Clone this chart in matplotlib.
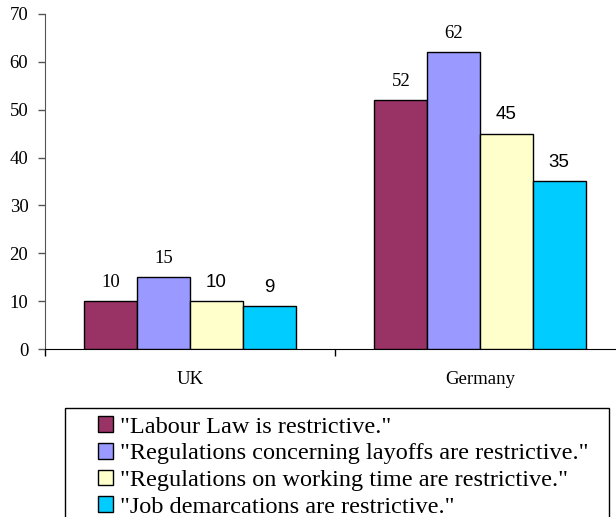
import numpy as np
import matplotlib.pyplot as plt
from matplotlib.patches import Rectangle

countries = ["UK", "Germany"]
series_labels = [
    '"Labour Law is restrictive."',
    '"Regulations concerning layoffs are restrictive."',
    '"Regulations on working time are restrictive."',
    '"Job demarcations are restrictive."',
]
labour_law = [10, 52]
layoffs = [15, 62]
working_time = [10, 45]
demarcations = [9, 35]

colors = ["#993366", "#9999FF", "#FFFFCC", "#00CCFF"]
label_fonts = ["Liberation Serif", "Liberation Serif", "Liberation Sans", "Liberation Sans"]


def main():
    fig = plt.figure(figsize=(6.16, 5.17), dpi=100)
    ax = fig.add_axes([45 / 616, 168 / 517, 580 / 616, 335 / 517])

    series = [labour_law, layoffs, working_time, demarcations]
    centers = np.arange(len(countries)) + 0.5
    width = 0.182
    offsets = (np.arange(4) - 1.5) * width

    handles = []
    for vals, off, col, fam in zip(series, offsets, colors, label_fonts):
        bars = ax.bar(centers + off, vals, width, color=col,
                      edgecolor="black", linewidth=1.0, zorder=3)
        handles.append(bars)
        for rect, v in zip(bars, vals):
            ax.annotate(str(v), (rect.get_x() + rect.get_width() / 2, v),
                        xytext=(0, 13.5), textcoords="offset points",
                        ha="center", va="center", fontsize=13.5,
                        family=fam, color="black")

    ax.set_xlim(0, 2)
    ax.set_ylim(0, 70)
    ax.set_yticks(range(0, 71, 10))
    ax.set_xticks([0, 1, 2])
    ax.set_xticklabels([])
    for c, name in zip(centers, countries):
        ax.text(c, -0.09, name, transform=ax.get_xaxis_transform(),
                ha="center", va="center", fontsize=13.5,
                family="Liberation Serif")

    for lab in ax.get_yticklabels():
        lab.set_family("Liberation Serif")
        lab.set_fontsize(13.5)
    ax.tick_params(axis="y", length=5, width=1, pad=7, color="#555555")
    ax.tick_params(axis="x", length=5, width=1, color="black")

    ax.spines["top"].set_visible(False)
    ax.spines["right"].set_visible(False)
    ax.spines["left"].set_color("#555555")
    ax.spines["bottom"].set_color("black")

    # legend frame runs off the bottom of the figure
    fig.patches.append(Rectangle((65 / 616, -0.2), 544 / 616, 0.2 + 109 / 517,
                                 transform=fig.transFigure, fill=False,
                                 edgecolor="black", linewidth=1.0))
    fig.legend(handles, series_labels, loc="upper left",
               bbox_to_anchor=(92 / 616, 1 - 410 / 517), frameon=False,
               prop={"family": "Liberation Serif", "size": 17.5},
               handlelength=0.62, handleheight=0.62, handletextpad=0.3,
               labelspacing=0.22, borderpad=0.25, borderaxespad=0)

    fig.savefig("out.png", dpi=100)


if __name__ == "__main__":
    main()
